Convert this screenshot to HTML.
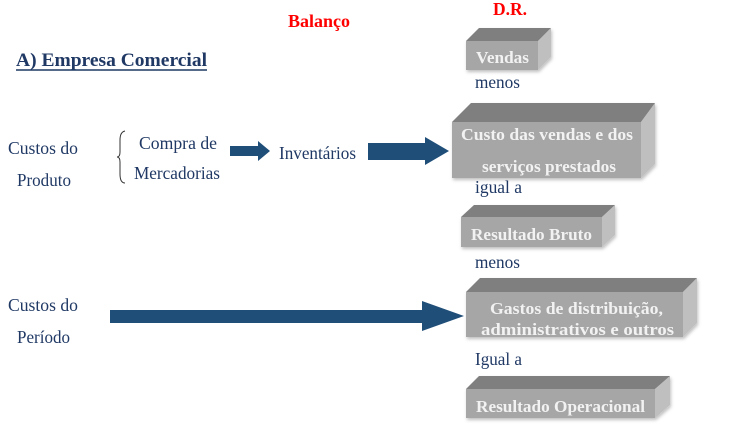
<!DOCTYPE html>
<html><head><style>body{margin:0;background:#fff}svg{display:block}</style></head><body>
<svg width="737" height="432" viewBox="0 0 737 432" xmlns="http://www.w3.org/2000/svg" font-family="Liberation Serif, serif">
<defs><filter id="s" x="-5%" y="-5%" width="110%" height="120%"><feDropShadow dx="1" dy="2" stdDeviation="1.5" flood-color="#000" flood-opacity="0.25"/></filter></defs>
<text x="288" y="27" fill="#ff0000" font-weight="bold" font-size="17.5" textLength="62" lengthAdjust="spacingAndGlyphs">Balanço</text>
<text x="493" y="15" fill="#ff0000" font-weight="bold" font-size="17.5" textLength="34" lengthAdjust="spacingAndGlyphs">D.R.</text>
<text x="16" y="66" fill="#1f3864" font-weight="bold" font-size="19" textLength="191" lengthAdjust="spacingAndGlyphs">A) Empresa Comercial</text>
<line x1="16" y1="70" x2="207" y2="70" stroke="#1f3864" stroke-width="1.5"/>
<g fill="#1f3864" font-size="18" lengthAdjust="spacingAndGlyphs">
<text x="8" y="154" textLength="70" lengthAdjust="spacingAndGlyphs">Custos do</text>
<text x="17" y="186" textLength="54" lengthAdjust="spacingAndGlyphs">Produto</text>
<text x="139" y="149" textLength="78" lengthAdjust="spacingAndGlyphs">Compra de</text>
<text x="134" y="179" textLength="86" lengthAdjust="spacingAndGlyphs">Mercadorias</text>
<text x="279" y="159" textLength="77" lengthAdjust="spacingAndGlyphs">Inventários</text>
<text x="8" y="311" textLength="70" lengthAdjust="spacingAndGlyphs">Custos do</text>
<text x="17" y="343" textLength="53" lengthAdjust="spacingAndGlyphs">Período</text>
<text x="475" y="88" textLength="45" lengthAdjust="spacingAndGlyphs">menos</text>
<text x="475" y="193" textLength="47" lengthAdjust="spacingAndGlyphs">igual a</text>
<text x="475" y="268" textLength="45" lengthAdjust="spacingAndGlyphs">menos</text>
<text x="475" y="365" textLength="47" lengthAdjust="spacingAndGlyphs">Igual a</text>
</g>
<path d="M125 131 Q120 132 120 140 L120 152 Q120 157 117 157 Q120 157 120 162 L120 174 Q120 183 125 183" fill="none" stroke="#333" stroke-width="1"/>
<g fill="#1f4e79">
<polygon points="230,146 258,146 258,141 270,151 258,161 258,156 230,156"/>
<polygon points="368,143 425,143 425,137 449,151 425,165 425,160 368,160"/>
<polygon points="110,310 422,310 422,301 464,316 422,331 422,323 110,323"/>
</g>
<g filter="url(#s)">
<polygon points="466,41 479,28 551,28 538,41" fill="#7f7f7f"/>
<polygon points="538,41 551,28 551,57 538,70" fill="#bfbfbf"/>
<rect x="466" y="41" width="72" height="29" fill="#a6a6a6"/>
<polygon points="452,122 471,103 655,103 641,122" fill="#7f7f7f"/>
<polygon points="641,122 655,103 655,164 641,178" fill="#bfbfbf"/>
<rect x="452" y="122" width="189" height="56" fill="#a6a6a6"/>
<polygon points="461,217 474,205 615,205 602,217" fill="#7f7f7f"/>
<polygon points="602,217 615,205 615,235 602,247" fill="#bfbfbf"/>
<rect x="461" y="217" width="141" height="30" fill="#a6a6a6"/>
<polygon points="466,292 480,278 697,278 683,292" fill="#7f7f7f"/>
<polygon points="683,292 697,278 697,323 683,337" fill="#bfbfbf"/>
<rect x="466" y="292" width="217" height="45" fill="#a6a6a6"/>
<polygon points="466,389 479,376 670,376 655,389" fill="#7f7f7f"/>
<polygon points="655,389 670,376 670,405 655,418" fill="#bfbfbf"/>
<rect x="466" y="389" width="189" height="29" fill="#a6a6a6"/>
</g>
<g fill="#f2f2f2" font-weight="bold" font-size="17">
<text x="476" y="63" textLength="53" lengthAdjust="spacingAndGlyphs">Vendas</text>
<text x="461" y="140" textLength="172" lengthAdjust="spacingAndGlyphs">Custo das vendas e dos</text>
<text x="482" y="172" textLength="134" lengthAdjust="spacingAndGlyphs">serviços prestados</text>
<text x="471" y="240" textLength="121" lengthAdjust="spacingAndGlyphs">Resultado Bruto</text>
<text x="490" y="314" textLength="173" lengthAdjust="spacingAndGlyphs">Gastos de distribuição,</text>
<text x="481" y="335" textLength="193" lengthAdjust="spacingAndGlyphs">administrativos e  outros</text>
<text x="476" y="412" textLength="169" lengthAdjust="spacingAndGlyphs">Resultado Operacional</text>
</g>
</svg>
</body></html>
